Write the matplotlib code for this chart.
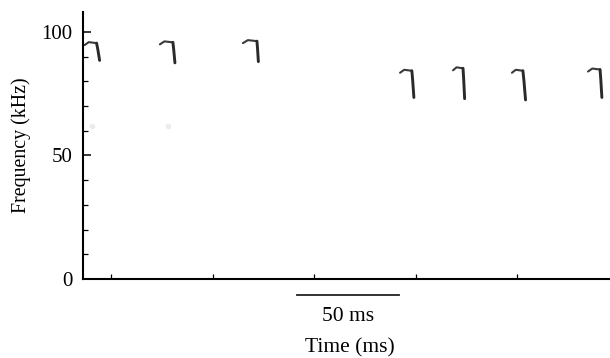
import matplotlib
matplotlib.use("Agg")
import matplotlib.pyplot as plt

plt.rcParams['font.family'] = ['Liberation Serif', 'DejaVu Serif']

# Call data (time in ms, frequency in kHz)
call_start = [0.8, 37.9, 78.8, 156.2, 182.3, 211.3, 248.8]
call_knee = [6.7, 44.3, 85.7, 162.0, 187.2, 216.7, 254.7]
call_end = [8.2, 45.3, 86.4, 163.0, 188.0, 218.0, 255.6]
freq_start = [95.5, 95.8, 96.3, 84.3, 85.3, 84.3, 84.8]
freq_end = [88.5, 87.5, 88.0, 73.5, 73.0, 72.5, 73.5]

# faint harmonic traces
harm_t = [4.4, 42.0]
harm_f = [62.0, 62.0]

x_ticks = [14, 64, 114, 164, 214]
y_major = [0, 50, 100]
y_minor = [10, 20, 30, 40, 60, 70, 80, 90]

fig = plt.figure(figsize=(6.10, 3.58), dpi=100)
ax = fig.add_axes([0.136, 0.2207, 0.864, 0.7458])
ax.set_xlim(0, 259.6)
ax.set_ylim(0, 108.1)

for t0, tk, te, f0, fe in zip(call_start, call_knee, call_end, freq_start, freq_end):
    # upper (flat) part of the call
    ts = [t0, t0 + 0.35 * (tk - t0), tk]
    fs = [f0 - 0.8, f0 + 0.4, f0]
    ax.plot(ts, fs, color='#3a3a3a', lw=1.5, solid_capstyle='round',
            solid_joinstyle='round', zorder=2)
    # descending part of the call
    ts = [tk, tk + 0.4 * (te - tk), te]
    fs = [f0, f0 - 0.35 * (f0 - fe), fe]
    ax.plot(ts, fs, color='#2a2a2a', lw=2.1, solid_capstyle='round',
            solid_joinstyle='round', zorder=2)

ax.plot(harm_t, harm_f, linestyle='none', marker='o', ms=3, color='#ececec',
        zorder=1)

for s in ['top', 'right']:
    ax.spines[s].set_visible(False)
ax.spines['left'].set_linewidth(1.5)
ax.spines['bottom'].set_linewidth(1.5)

ax.set_xticks(x_ticks)
ax.set_xticklabels([])
ax.set_yticks(y_major)
ax.set_yticklabels([str(v) for v in y_major])
ax.set_yticks(y_minor, minor=True)
ax.tick_params(axis='y', which='major', direction='in', length=6, width=1.1,
               labelsize=15, pad=7.5)
ax.tick_params(axis='y', which='minor', direction='in', length=3.6, width=0.9)
ax.tick_params(axis='x', which='major', direction='in', length=3.6, width=0.9)

ax.set_ylabel('Frequency (kHz)', fontsize=14.3, va='center')
ax.yaxis.set_label_coords(-0.118, 0.5)

# 50 ms scale bar below the axis
ax.plot([105.5, 155.5], [-6.6, -6.6], color='#222222', lw=1.3, clip_on=False)
ax.text(130.8, -15.3, '50 ms', ha='center', va='center', fontsize=15.5)
fig.text(0.574, 0.028, 'Time (ms)', ha='center', va='center', fontsize=15.5)

fig.savefig('out.png', dpi=100)
